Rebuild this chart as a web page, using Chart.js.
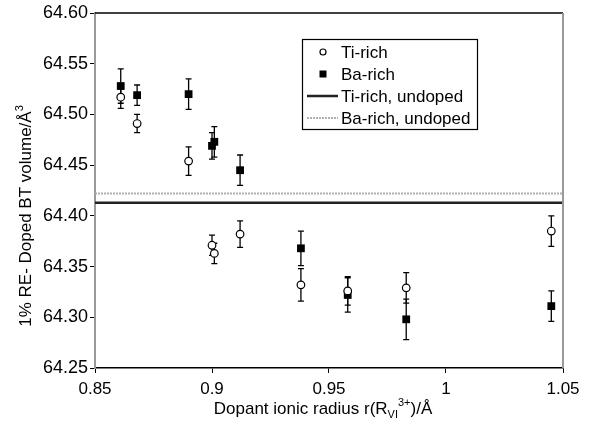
<!DOCTYPE html>
<html>
<head>
<meta charset="utf-8">
<script src="https://cdn.jsdelivr.net/npm/chart.js@4.4.1/dist/chart.umd.min.js"></script>
<style>
  html, body { margin: 0; background: #fff; }
  #wrap { width: 594px; height: 432px; }
</style>
</head>
<body>
<div id="wrap"><canvas id="chart"></canvas></div>
<script>
// dopant ionic radius (Å)
const radius = [0.861, 0.868, 0.890, 0.900, 0.901, 0.912, 0.938, 0.958, 0.983, 1.045];
const tiRich = [64.517, 64.491, 64.454, 64.371, 64.363, 64.382, 64.332, 64.326, 64.329, 64.385];
const tiErr  = [0.011, 0.009, 0.014, 0.010, 0.010, 0.013, 0.016, 0.014, 0.015, 0.015];
const baRich = [64.528, 64.519, 64.520, 64.469, 64.473, 64.445, 64.368, 64.322, 64.298, 64.311];
const baErr  = [0.017, 0.010, 0.015, 0.013, 0.015, 0.015, 0.017, 0.017, 0.020, 0.015];
const tiUndoped = 64.413;
const baUndoped = 64.422;
const legendLabels = ['Ti-rich', 'Ba-rich', 'Ti-rich, undoped', 'Ba-rich, undoped'];

const FONT = "'Liberation Sans', Arial, sans-serif";
const pts = (ys) => radius.map((x, i) => ({ x: x, y: ys[i] }));

const errorBars = {
  id: 'errorBars',
  beforeDatasetsDraw(chart) {
    const { ctx, scales: { x, y } } = chart;
    ctx.save();
    ctx.strokeStyle = '#000';
    ctx.lineWidth = 1.3;
    [[tiRich, tiErr], [baRich, baErr]].forEach(([vals, errs]) => {
      vals.forEach((v, i) => {
        const px = x.getPixelForValue(radius[i]);
        const top = y.getPixelForValue(v + errs[i]);
        const bot = y.getPixelForValue(v - errs[i]);
        ctx.beginPath();
        ctx.moveTo(px, top); ctx.lineTo(px, bot);
        ctx.moveTo(px - 3, top); ctx.lineTo(px + 3, top);
        ctx.moveTo(px - 3, bot); ctx.lineTo(px + 3, bot);
        ctx.stroke();
      });
    });
    ctx.restore();
  }
};

function drawPieces(ctx, pieces, x, y) {
  // pieces: [text, size, dy]
  let total = 0;
  pieces.forEach(p => { ctx.font = p[1] + 'px ' + FONT; total += ctx.measureText(p[0]).width; });
  let cx = x - total / 2;
  pieces.forEach(p => {
    ctx.font = p[1] + 'px ' + FONT;
    ctx.fillText(p[0], cx, y + p[2]);
    cx += ctx.measureText(p[0]).width;
  });
}

const decor = {
  id: 'decor',
  afterDraw(chart) {
    const { ctx, chartArea: a } = chart;
    ctx.save();
    // frame
    ctx.lineWidth = 1.5;
    ctx.strokeStyle = '#000';
    ctx.beginPath(); ctx.moveTo(a.left, a.top); ctx.lineTo(a.right, a.top); ctx.stroke();
    ctx.strokeStyle = '#999';
    ctx.lineWidth = 2;
    ctx.beginPath(); ctx.moveTo(a.right, a.top); ctx.lineTo(a.right, a.bottom); ctx.stroke();

    // axis titles
    ctx.fillStyle = '#000';
    ctx.textBaseline = 'alphabetic';
    ctx.textAlign = 'left';
    drawPieces(ctx, [['Dopant ionic radius r(R', 17, 0], ['VI', 11, 4], ['3+', 11, -8], [')/Å', 17, 0]], 323, 414);
    ctx.translate(31, 216);
    ctx.rotate(-Math.PI / 2);
    drawPieces(ctx, [['1% RE- Doped BT volume/Å', 17, 0], ['3', 11, -8]], 0, 0);
    ctx.setTransform(1, 0, 0, 1, 0, 0);

    // legend
    ctx.fillStyle = '#fff';
    ctx.fillRect(302, 39, 176, 91);
    ctx.strokeStyle = '#000';
    ctx.lineWidth = 1.2;
    ctx.strokeRect(302.5, 39.5, 175, 90);
    const rows = [52, 74, 96, 118];
    ctx.font = '17px ' + FONT;
    ctx.fillStyle = '#000';
    ctx.textBaseline = 'middle';
    legendLabels.forEach((t, i) => ctx.fillText(t, 341, rows[i] + 1));
    ctx.beginPath(); ctx.arc(323, rows[0], 3, 0, Math.PI * 2);
    ctx.lineWidth = 1.2; ctx.strokeStyle = '#000'; ctx.stroke();
    ctx.fillRect(319.5, rows[1] - 3.5, 7, 7);
    ctx.lineWidth = 2.5; ctx.strokeStyle = '#222';
    ctx.beginPath(); ctx.moveTo(307, rows[2]); ctx.lineTo(338, rows[2]); ctx.stroke();
    ctx.lineWidth = 2; ctx.strokeStyle = '#b0b0b0';
    ctx.setLineDash([2, 1]);
    ctx.beginPath(); ctx.moveTo(307, rows[3]); ctx.lineTo(338, rows[3]); ctx.stroke();
    ctx.restore();
  }
};

new Chart(document.getElementById('chart'), {
  type: 'scatter',
  plugins: [errorBars, decor],
  data: {
    datasets: [
      {
        label: legendLabels[2],
        data: [{ x: 0.85, y: tiUndoped }, { x: 1.05, y: tiUndoped }],
        showLine: true,
        borderColor: '#222',
        borderWidth: 2.5,
        pointRadius: 0,
      },
      {
        label: legendLabels[3],
        data: [{ x: 0.85, y: baUndoped }, { x: 1.05, y: baUndoped }],
        showLine: true,
        borderColor: '#b0b0b0',
        borderWidth: 2,
        borderDash: [2, 1],
        pointRadius: 0,
      },
      {
        label: legendLabels[0],
        data: pts(tiRich),
        pointStyle: 'circle',
        pointRadius: 3.8,
        backgroundColor: '#fff',
        borderColor: '#000',
        borderWidth: 1.2,
      },
      {
        label: legendLabels[1],
        data: pts(baRich),
        pointStyle: 'rect',
        pointRadius: 5.5,
        backgroundColor: '#000',
        borderColor: '#000',
        borderWidth: 0,
      }
    ]
  },
  options: {
    responsive: true,
    maintainAspectRatio: false,
    animation: false,
    layout: { padding: { top: 13, right: 31, left: 0, bottom: 0 } },
    plugins: {
      legend: { display: false },
      tooltip: { enabled: false },
    },
    scales: {
      x: {
        min: 0.85,
        max: 1.05,
        afterFit: (s) => { s.height = 64; },
        border: { color: '#000', width: 1.5 },
        grid: { drawOnChartArea: false, color: '#000', tickLength: 5 },
        ticks: {
          stepSize: 0.05,
          padding: 6,
          color: '#000',
          font: { family: FONT, size: 17 },
          callback: (v) => String(+v.toFixed(2)),
        },
      },
      y: {
        min: 64.25,
        max: 64.60,
        afterFit: (s) => { s.width = 95; },
        border: { color: '#999', width: 2 },
        grid: { drawOnChartArea: false, color: '#000', tickLength: 5 },
        ticks: {
          stepSize: 0.05,
          padding: 2,
          color: '#000',
          font: { family: FONT, size: 18 },
          callback: (v) => v.toFixed(2),
        },
      }
    }
  }
});
</script>
</body>
</html>
